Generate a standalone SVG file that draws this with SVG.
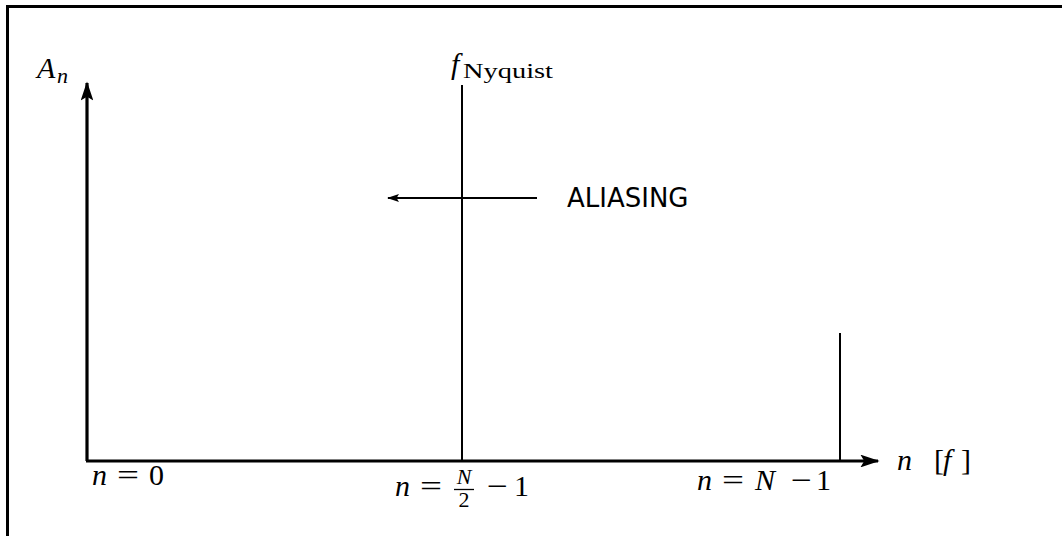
<svg xmlns="http://www.w3.org/2000/svg" width="1062" height="536" viewBox="0 0 1062 536">
<style>
.m{font-family:"Liberation Serif","DejaVu Serif",serif;font-size:30px;fill:#000}
.i{font-style:italic}
.sm{font-size:22px}
.s{font-family:"DejaVu Sans","Liberation Sans",sans-serif;font-size:26px;fill:#000}
.ax{stroke:#000;stroke-width:3.2;fill:none}
.ln{stroke:#000;stroke-width:2;fill:none}
</style>
<defs>
<marker id="big" markerWidth="6" markerHeight="4" refX="5.5" refY="2" orient="auto" markerUnits="strokeWidth"><path d="M0,0 L6,2 L0,4 L1.2,2 Z" fill="#000"/></marker>
<marker id="sm" markerWidth="6" markerHeight="4" refX="5.5" refY="2" orient="auto" markerUnits="strokeWidth"><path d="M0,0 L6,2 L0,4 L1.2,2 Z" fill="#000"/></marker>
</defs>
<rect width="1062" height="536" fill="#fff"/>
<path d="M7.5,536 V6.5 H1062" stroke="#000" stroke-width="3" fill="none"/>
<g id="connectors">
<path class="ax" d="M87,461 V83" marker-end="url(#big)"/>
<path class="ax" d="M86,461 H878" marker-end="url(#big)"/>
<path class="ln" d="M462,85 V461"/>
<path class="ln" d="M840,333 V461"/>
<path class="ln" d="M537,198 H388" marker-end="url(#sm)"/>
</g>
<g id="label-An"><text class="m i" x="37" y="78">A</text><text class="m i sm" x="57" y="83">n</text></g>
<g id="label-fnyq"><text class="m i" x="451" y="74">f</text><text class="m sm" x="463" y="78" textLength="90" lengthAdjust="spacingAndGlyphs">Nyquist</text></g>
<g id="label-aliasing"><text class="s" x="567" y="207">ALIASING</text></g>
<g id="label-n0"><text class="m i" x="92" y="485">n</text><text class="m" x="117" y="485" textLength="22" lengthAdjust="spacingAndGlyphs">=</text><text class="m" x="149" y="485">0</text></g>
<g id="label-nhalf">
<text class="m i" x="395" y="496">n</text>
<text class="m" x="420" y="496" textLength="22" lengthAdjust="spacingAndGlyphs">=</text>
<text class="m i sm" x="464" y="484" text-anchor="middle">N</text>
<path d="M454,489.5 H474" stroke="#000" stroke-width="1.3"/>
<text class="m sm" x="464" y="507" text-anchor="middle">2</text>
<text class="m" x="487" y="496" textLength="21" lengthAdjust="spacingAndGlyphs">−</text>
<text class="m" x="514" y="496">1</text>
</g>
<g id="label-nN1"><text class="m i" x="697" y="490">n</text><text class="m" x="722" y="490" textLength="22" lengthAdjust="spacingAndGlyphs">=</text><text class="m i" x="755" y="490">N</text><text class="m" x="791" y="490" textLength="21" lengthAdjust="spacingAndGlyphs">−</text><text class="m" x="816" y="490">1</text></g>
<g id="label-axis"><text class="m i" x="897" y="470">n</text><text class="m" x="934" y="470">[</text><text class="m i" x="943" y="470">f</text><text class="m" x="961" y="470">]</text></g>
</svg>
